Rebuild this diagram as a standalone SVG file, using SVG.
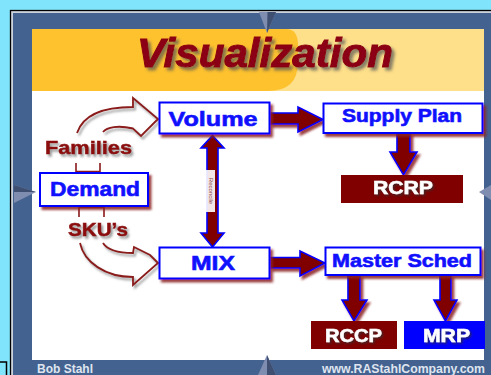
<svg xmlns="http://www.w3.org/2000/svg" width="491" height="375" viewBox="0 0 491 375">
<defs>
<filter id="sh" x="-20%" y="-20%" width="150%" height="160%">
<feDropShadow dx="2.5" dy="3" stdDeviation="1.2" flood-color="#8b1a1a" flood-opacity="0.85"/>
</filter>
<filter id="gs" x="-20%" y="-20%" width="150%" height="160%">
<feDropShadow dx="2" dy="2.5" stdDeviation="1.2" flood-color="#555" flood-opacity="0.6"/>
</filter>
<filter id="ts" x="-10%" y="-20%" width="130%" height="160%">
<feDropShadow dx="3" dy="3" stdDeviation="1.5" flood-color="#555" flood-opacity="0.7"/>
</filter>
<filter id="wt" x="-10%" y="-20%" width="130%" height="160%">
<feDropShadow dx="1.5" dy="1.5" stdDeviation="0.8" flood-color="#333" flood-opacity="0.8"/>
</filter>
</defs>
<style>
.box{fill:#fff;stroke:#0000ff;stroke-width:2}
.bl{font-family:"Liberation Sans",Arial,sans-serif;font-weight:bold;fill:#1010ff;stroke:#1010ff;stroke-width:0.6;text-anchor:middle}
.rd{font-family:"Liberation Sans",Arial,sans-serif;font-weight:bold;fill:#8b0a0a;stroke:#8b0a0a;stroke-width:0.5;text-anchor:middle}
.wh{font-family:"Liberation Sans",Arial,sans-serif;font-weight:bold;fill:#fff;stroke:#fff;stroke-width:0.5;text-anchor:middle}
.ft{font-family:"Liberation Sans",Arial,sans-serif;font-weight:bold;fill:#dfe5ef;font-size:12px}
.blk{fill:#800000;stroke:#0000ff;stroke-width:1.6;stroke-linejoin:miter}
.cur{fill:none;stroke:#8b1a1a;stroke-width:1.8;stroke-linejoin:miter}
.ptr{fill:#7f8db0}
.ptrd{fill:#3f4f72}
</style>
<rect x="0" y="0" width="491" height="375" fill="#80e4fc"/>
<path d="M0,362 H6.5 V375" fill="none" stroke="#000" stroke-width="1.5"/>
<rect x="10.5" y="10.5" width="490" height="375" fill="#ccd2dc" stroke="#000" stroke-width="1.3"/>
<rect x="13" y="13" width="478" height="362" fill="#44628f"/>
<rect x="32" y="29" width="452" height="331" fill="#fff"/>
<rect x="32" y="29" width="452" height="62" fill="#fee08a"/>
<path d="M32,29 H286 Q298,29 298,45 V62 Q298,91 268,91 H32 Z" fill="#fec22e"/>
<path d="M259,12 L276,12 L267,33 Z" class="ptr"/>
<path d="M267.5,12 L276,12 L267,33 Z" class="ptrd"/>
<path d="M14,185 L36,192 L14,203 Z" class="ptr"/>
<path d="M14,185 L36,192 L14,192 Z" class="ptrd"/>
<path d="M491,185 L479,192 L491,200 Z" class="ptr"/>
<path d="M258,375 L267,355 L276,375 Z" class="ptr"/>
<path d="M267,355 L276,375 L267,375 Z" class="ptrd"/>
<text x="265" y="67" font-family="'Liberation Sans',Arial,sans-serif" font-weight="bold" font-style="italic" font-size="41" fill="#8b0012" stroke="#8b0012" stroke-width="1" text-anchor="middle" textLength="256" lengthAdjust="spacingAndGlyphs" filter="url(#ts)">Visualization</text>
<g id="connectors">
<path class="cur" filter="url(#gs)" d="M77,133 C83,115 103,107 133,107 L133,98 L158,119 L141,136 L133,128.5 C118,125 107,127 103,132"/>
<path class="cur" filter="url(#gs)" d="M80,243 C84,262 105,277 133,277 L133,285 L158,263 L150,255 L134,247 L133,253 C120,253 108,251 103,243"/>
<path d="M76,163 V171.5 H100 V163" fill="none" stroke="#8b1a1a" stroke-width="1.6"/>
<path d="M79,217 V207.5 H104 V217" fill="none" stroke="#8b1a1a" stroke-width="1.6"/>
<path class="blk" filter="url(#sh)" d="M270,113 L298,113 L298,107 L323,119.5 L298,132 L298,124 L270,124 Z"/>
<path class="blk" filter="url(#sh)" d="M270,257.5 L300,257.5 L300,251 L325,263 L300,276 L300,268 L270,268 Z"/>
<path class="blk" filter="url(#sh)" d="M397,133 L410,133 L410,152 L417,152 L403.5,175 L390,152 L397,152 Z"/>
<path class="blk" filter="url(#sh)" d="M348,275 L360,275 L360,300 L367,300 L354,321 L342,300 L348,300 Z"/>
<path class="blk" filter="url(#sh)" d="M440,275 L451,275 L451,300 L457,300 L445.5,321 L434,300 L440,300 Z"/>
<path class="blk" d="M212.5,135.5 L224,148 L218,148 L218,233 L224,233 L212.5,247 L201,233 L207,233 L207,148 L201,148 Z"/>
<rect x="206" y="170" width="9" height="42" fill="#fff" opacity="0.9"/>
<text transform="translate(208.5,191) rotate(90)" font-family="'Liberation Sans',Arial,sans-serif" font-size="6" fill="#8b4a4a" text-anchor="middle">Reconcile</text>
</g>
<g id="families"><text class="rd" x="88.5" y="154" font-size="19" textLength="87" lengthAdjust="spacingAndGlyphs" filter="url(#gs)">Families</text></g>
<g id="skus"><text class="rd" x="98" y="236" font-size="19" textLength="60" lengthAdjust="spacingAndGlyphs" filter="url(#gs)">SKU’s</text></g>
<g id="volume"><rect class="box" x="159.5" y="102.5" width="110" height="31" filter="url(#sh)"/><text class="bl" x="213" y="126" font-size="21" textLength="89" lengthAdjust="spacingAndGlyphs">Volume</text></g>
<g id="demand"><rect class="box" x="40" y="173" width="108" height="33" filter="url(#sh)"/><text class="bl" x="95" y="196" font-size="21" textLength="90" lengthAdjust="spacingAndGlyphs">Demand</text></g>
<g id="mix"><rect class="box" x="159.5" y="247.5" width="110" height="31" filter="url(#sh)"/><text class="bl" x="213" y="270" font-size="20" textLength="44" lengthAdjust="spacingAndGlyphs">MIX</text></g>
<g id="supply-plan"><rect class="box" x="323.5" y="103.5" width="159" height="29.5" filter="url(#sh)"/><text class="bl" x="402" y="122" font-size="18" textLength="120" lengthAdjust="spacingAndGlyphs">Supply Plan</text></g>
<g id="master-sched"><rect class="box" x="325.5" y="247.5" width="155" height="27.5" filter="url(#sh)"/><text class="bl" x="402" y="267" font-size="18" textLength="140" lengthAdjust="spacingAndGlyphs">Master Sched</text></g>
<g id="rcrp"><rect x="341" y="175" width="122" height="28" fill="#800000"/><text class="wh" x="403" y="194" font-size="18" textLength="60" lengthAdjust="spacingAndGlyphs" filter="url(#wt)">RCRP</text></g>
<g id="rccp"><rect x="311" y="321" width="86" height="28" fill="#800000"/><text class="wh" x="353.5" y="342" font-size="18" textLength="57" lengthAdjust="spacingAndGlyphs" filter="url(#wt)">RCCP</text></g>
<g id="mrp"><rect x="404" y="321" width="81" height="28" fill="#0000ff"/><text class="wh" x="446.5" y="342" font-size="18" textLength="47" lengthAdjust="spacingAndGlyphs" filter="url(#wt)">MRP</text></g>
<text class="ft" x="37" y="373" textLength="56" lengthAdjust="spacingAndGlyphs">Bob Stahl</text>
<text class="ft" x="485" y="373" text-anchor="end" textLength="163" lengthAdjust="spacingAndGlyphs">www.RAStahlCompany.com</text>
</svg>
